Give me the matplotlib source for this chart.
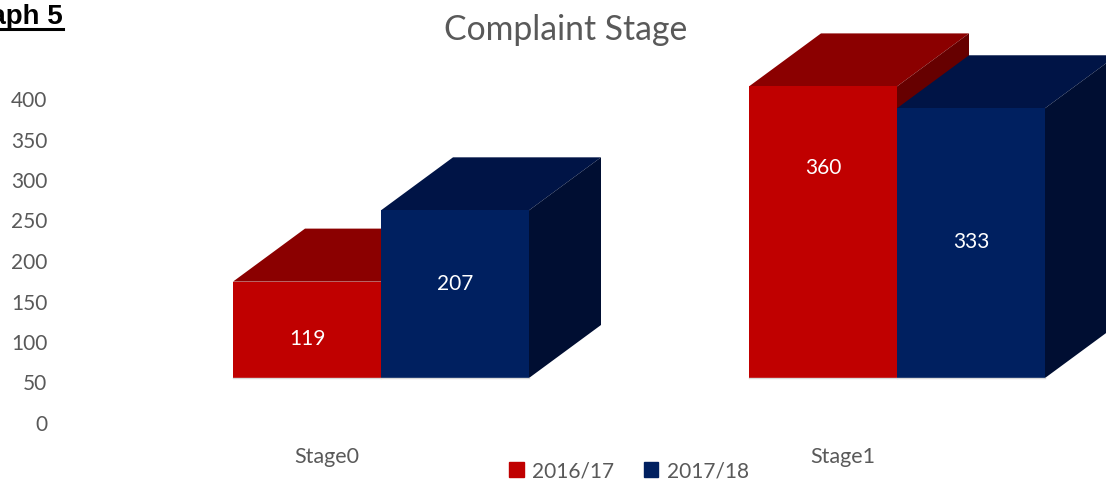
import matplotlib
matplotlib.use("Agg")
import matplotlib.pyplot as plt
from matplotlib.patches import Polygon, Rectangle
from matplotlib.lines import Line2D

# ---- data ----
categories = ["Stage0", "Stage1"]
series_names = ["2016/17", "2017/18"]
values_2016 = [119, 360]
values_2017 = [207, 333]
yticks = [0, 50, 100, 150, 200, 250, 300, 350, 400]

# ---- style ----
FONT = ["Lato", "DejaVu Sans"]
plt.rcParams["font.family"] = FONT
TXT = "#595959"
front_cols = ["#C00000", "#002060"]
top_cols = ["#8B0000", "#001446"]
side_cols = ["#660000", "#000E32"]

W, H, DPI = 1106, 483, 100
fig = plt.figure(figsize=(W / DPI, H / DPI), dpi=DPI)

# main drawing axes (whole figure); x in category units, y in value units
X0PX, XSCALE = 381.0, 516.0     # px of category 0 / px per category
Y0PX, YSCALE = 378.0, 0.81      # px (from top) of value 0 / px per unit
ax = fig.add_axes([0, 0, 1, 1])
ax.set_xlim(-X0PX / XSCALE, (W - X0PX) / XSCALE)
ax.set_ylim((Y0PX - H) / YSCALE, Y0PX / YSCALE)
ax.axis("off")

bw = 148 / XSCALE          # bar width
ddx = 72 / XSCALE          # depth offset x
ddy = 53 / YSCALE          # depth offset y

label_frac = [[0.40, 0.72], [0.56, 0.505]]

series = [values_2016, values_2017]
for s, vals in enumerate(series):
    offs = -bw / 2 if s == 0 else bw / 2
    xs = [i + offs for i in range(len(categories))]
    ax.bar(xs, vals, width=bw, color=front_cols[s], zorder=2 + s * 3,
           edgecolor="none")
    for i, (xc, v) in enumerate(zip(xs, vals)):
        xl, xr = xc - bw / 2, xc + bw / 2
        top = Polygon([(xl, v), (xr, v), (xr + ddx, v + ddy), (xl + ddx, v + ddy)],
                      closed=True, facecolor=top_cols[s], edgecolor="none",
                      zorder=1 + s * 3)
        side = Polygon([(xr, 0), (xr, v), (xr + ddx, v + ddy), (xr + ddx, ddy)],
                       closed=True, facecolor=side_cols[s], edgecolor="none",
                       zorder=1 + s * 3)
        ax.add_patch(top)
        ax.add_patch(side)
        ax.plot([xl, xr], [0, 0], color="#D9D9D9", lw=1.0, zorder=3 + s * 3)
        ax.text(xc, v * label_frac[s][i], str(v), color="white", fontsize=15,
                ha="center", va="center", zorder=10)

# category labels
for i, c in enumerate(categories):
    ax.text(i - 54 / XSCALE, (Y0PX - 457) / YSCALE, c, color=TXT, fontsize=15.5,
            ha="center", va="center")

# y-axis tick labels (separate value axis)
ax2 = fig.add_axes([50 / W, (H - 423) / H, 0.001, (423 - 99) / H])
ax2.set_ylim(0, 400)
ax2.set_yticks(yticks)
ax2.set_yticklabels([str(t) for t in yticks], color=TXT, fontsize=15)
ax2.tick_params(axis="y", length=0, pad=2)
ax2.set_xticks([])
for sp in ax2.spines.values():
    sp.set_visible(False)
ax2.patch.set_alpha(0)

# title
fig.text(566 / W, 1 - 30 / H, "Complaint Stage", color=TXT, fontsize=24.3,
         ha="center", va="center")

# "Graph 5" heading (cut off at the left, as in the source)
fig.text(63 / W, 1 - 17 / H, "Graph 5", family="Liberation Sans",
         fontweight="bold", fontsize=20, ha="right", va="center", color="black")
fig.add_artist(Line2D([0, 63 / W], [1 - 28.5 / H, 1 - 28.5 / H], color="black",
                      lw=2.2, transform=fig.transFigure))

# legend
handles = [Rectangle((0, 0), 1, 1, color=front_cols[k]) for k in range(2)]
fig.legend(handles, series_names, loc="center", bbox_to_anchor=(629 / W, 1 - 471 / H),
           ncol=2, frameon=False, fontsize=15, handlelength=0.7, handleheight=0.7,
           handletextpad=0.4, columnspacing=1.4, labelcolor=TXT)

fig.savefig("out.png", dpi=DPI)
